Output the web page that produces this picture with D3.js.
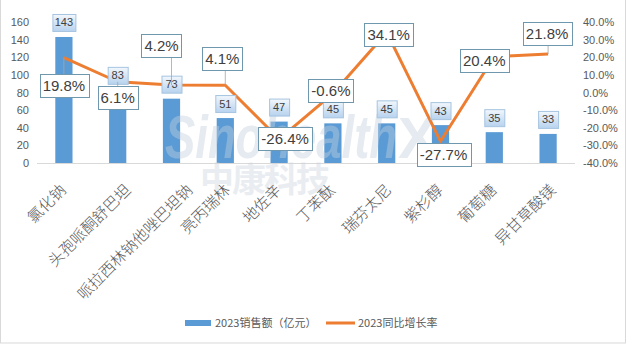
<!DOCTYPE html>
<html><head><meta charset="utf-8">
<script src="https://cdn.jsdelivr.net/npm/d3@7/dist/d3.min.js"></script>
<style>body{margin:0;background:#fff;}svg{display:block;font-family:"Microsoft YaHei","Noto Sans CJK SC",sans-serif;}</style>
</head><body><svg id="c" width="627" height="345"></svg>
<script>
const categories = ["氯化钠","头孢哌酮舒巴坦","哌拉西林钠他唑巴坦钠","亮丙瑞林","地佐辛","丁苯酞","瑞芬太尼","紫杉醇","葡萄糖","异甘草酸镁"];
const sales = [143,83,73,51,47,45,45,43,35,33];
const growth = [19.8,6.1,4.2,4.1,-26.4,-0.6,34.1,-27.7,20.4,21.8];
const leftTicks = [0,20,40,60,80,100,120,140,160];
const rightTicks = [-40,-30,-20,-10,0,10,20,30,40];
const seriesNames = ["2023销售额（亿元）","2023同比增长率"];
// label box offsets (px) relative to line points
const pctLabelOffset = [[0,28],[0,16],[-10,-40],[-3,-27],[6,-1],[-2,-3],[2,2],[3,13],[-10,4],[-1,-21]];

const svg = d3.select("#c");
const m={l:37,r:575,t:22,b:163};
const x = d3.scaleBand().domain(categories).range([m.l,m.r]).paddingInner(0.68).paddingOuter(0.34);
const y = d3.scaleLinear().domain([0,160]).range([m.b,m.t]);
const y2 = d3.scaleLinear().domain([-40,40]).range([m.b,m.t]);
const cx = d=>x(d)+x.bandwidth()/2;

svg.append("rect").attr("x",0.5).attr("y",-1).attr("width",625).attr("height",344).attr("fill","#fff").attr("stroke","#d9d9d9");

const defs=svg.append("defs");
const g=defs.append("linearGradient").attr("id","lg").attr("x1",0).attr("y1",0).attr("x2",0).attr("y2",1);
g.append("stop").attr("offset",0).attr("stop-color","#f2f7fc");
g.append("stop").attr("offset",1).attr("stop-color","#b7d2ee");

// axes
const ax = d3.axisLeft(y).tickValues(leftTicks).tickSize(0).tickPadding(8);
const gl = svg.append("g").attr("transform",`translate(${m.l},0)`).call(ax);
gl.select(".domain").remove();
gl.selectAll("text").attr("fill","#595959").attr("font-size",11).attr("font-family","Liberation Sans, Arial, sans-serif");
const ar = d3.axisRight(y2).tickValues(rightTicks).tickSize(0).tickPadding(8).tickFormat(d=>d.toFixed(1)+"%");
const gr = svg.append("g").attr("transform",`translate(${m.r},0)`).call(ar);
gr.select(".domain").remove();
gr.selectAll("text").attr("fill","#595959").attr("font-size",11).attr("font-family","Liberation Sans, Arial, sans-serif");

svg.append("line").attr("x1",m.l).attr("x2",m.r).attr("y1",y(0)+0.5).attr("y2",y(0)+0.5).attr("stroke","#d9d9d9");

// bars
svg.selectAll(".bar").data(categories).enter().append("rect")
 .attr("x",d=>x(d)).attr("width",x.bandwidth())
 .attr("y",(d,i)=>y(sales[i])).attr("height",(d,i)=>y(0)-y(sales[i]))
 .attr("fill","#5b9bd5");

// watermark
const wm = svg.append("g").attr("opacity",0.42);
wm.append("text").attr("x",165).attr("y",158).attr("font-family","Liberation Sans, Arial, sans-serif").attr("font-weight","bold").attr("font-style","italic").attr("font-size",62).attr("textLength",232).attr("lengthAdjust","spacingAndGlyphs").attr("fill","#c3d0de").text("Sinohealth");
wm.append("text").attr("x",398).attr("y",158).attr("font-family","Liberation Sans, Arial, sans-serif").attr("font-weight","bold").attr("font-size",58).attr("fill","#c3d0de").text("X");
wm.append("text").attr("x",200).attr("y",192).attr("font-weight","bold").attr("font-size",34).attr("textLength",130).attr("fill","#cdd5de").text("中康科技");

// x labels
svg.selectAll(".xl").data(categories).enter().append("text")
 .attr("transform",d=>`translate(${cx(d)+2.7*d.length-5},${y(0)+28}) rotate(-45)`)
 .attr("text-anchor","end").attr("font-size",15.5).attr("font-weight",300).attr("fill","#595959").text(d=>d);

// line
const line = d3.line().x((d,i)=>cx(categories[i])).y(d=>y2(d));
svg.append("path").datum(growth).attr("d",line).attr("fill","none").attr("stroke","#ed7d31").attr("stroke-width",3).attr("stroke-linejoin","round");

// bar labels
categories.forEach((c,i)=>{
  const t = String(sales[i]);
  const bw = t.length*3+14, bh=17;
  const bx = cx(c)-bw/2, by = y(sales[i])-bh-6;
  svg.append("rect").attr("x",bx+0.5).attr("y",by+0.5).attr("width",bw).attr("height",bh).attr("fill","url(#lg)").attr("stroke","#a6c4e0");
  svg.append("text").attr("x",cx(c)).attr("y",by+bh/2+4).attr("text-anchor","middle").attr("font-size",11).attr("fill","#404040").attr("font-family","Liberation Sans, Arial, sans-serif").text(t);
});

// pct labels
categories.forEach((c,i)=>{
  const px=cx(c), py=y2(growth[i]);
  const t = growth[i].toFixed(1)+"%";
  const lx = px+pctLabelOffset[i][0], ly = py+pctLabelOffset[i][1];
  const rect = svg.append("rect");
  const txt = svg.append("text").attr("x",lx).attr("y",ly+5.5).attr("text-anchor","middle").attr("font-size",15).attr("fill","#404040").attr("font-family","Liberation Sans, Arial, sans-serif").text(t);
  const bw = txt.node().getComputedTextLength()+6, bh=23;
  const bx = lx-bw/2, by = ly-bh/2;
  const ex = Math.max(bx,Math.min(bx+bw,px)), ey = py<by?by:(py>by+bh?by+bh:py);
  if(Math.hypot(ex-px,ey-py)>4) svg.insert("line","rect:last-of-type").attr("x1",px).attr("y1",py).attr("x2",ex).attr("y2",ey).attr("stroke","#a6a6a6").attr("stroke-width",0.8);
  rect.attr("x",Math.round(bx)+0.5).attr("y",Math.round(by)+0.5).attr("width",Math.round(bw)).attr("height",bh).attr("fill","#fff").attr("stroke","#6f98ae");
});

// legend
const lg = svg.append("g").attr("font-size",11).attr("fill","#595959");
lg.append("rect").attr("x",185).attr("y",320).attr("width",26).attr("height",6).attr("fill","#5b9bd5");
lg.append("text").attr("x",215).attr("y",327).attr("fill","#595959").text(seriesNames[0]);
lg.append("line").attr("x1",326).attr("x2",355).attr("y1",323).attr("y2",323).attr("stroke","#ed7d31").attr("stroke-width",3);
lg.append("text").attr("x",358).attr("y",327).attr("fill","#595959").text(seriesNames[1]);
</script></body></html>
